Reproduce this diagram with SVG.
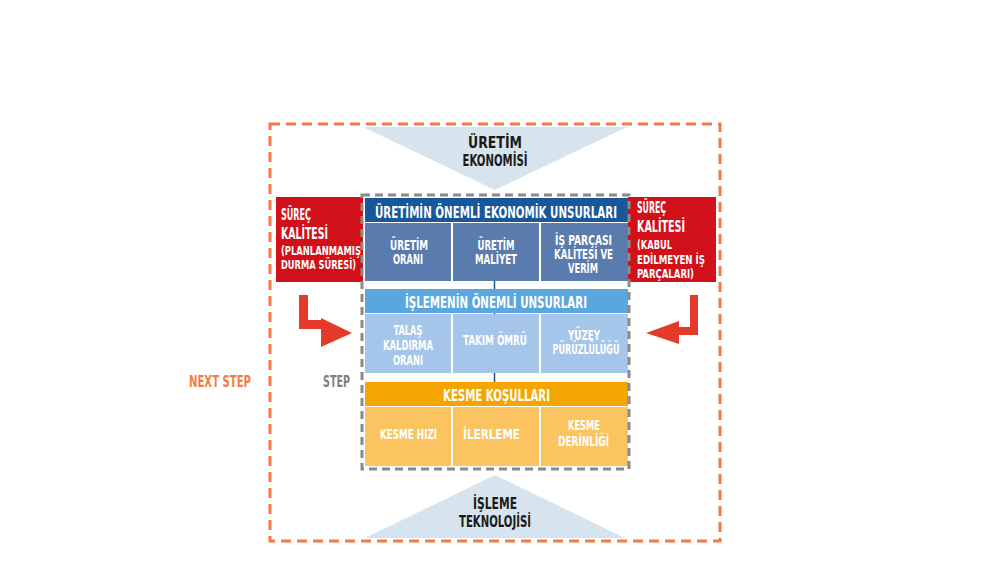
<svg xmlns="http://www.w3.org/2000/svg" width="1000" height="575" viewBox="0 0 1000 575">
<style>
text{font-family:"DejaVu Sans Condensed","DejaVu Sans",sans-serif;font-weight:bold;}
.w{fill:#ffffff;}
.c{text-anchor:middle;}
.k{fill:#1a1a1a;font-size:15.5px;}
.h{font-size:15px;}
.s{font-size:13.5px;}
.r1{font-size:15.5px;}
.r2{font-size:13px;}
.tri{fill:#d7e4ee;}
.red{fill:#d2101a;}
.arrow{fill:#e33a2a;}
.hd1{fill:#18589a;} .cl1{fill:#5a7bad;}
.hd2{fill:#5aa6de;} .cl2{fill:#a5c6ea;}
.hd3{fill:#f5a500;} .cl3{fill:#fbc460;}
</style>
<rect width="1000" height="575" fill="#ffffff"/>
<g id="outer-frame">
<rect x="270" y="124" width="450" height="417" fill="none" stroke="#f47b45" stroke-width="3" stroke-dasharray="10 6"/>
</g>
<g id="uretim-ekonomisi">
<polygon class="tri" points="363,127 627,127 495,190"/>
<text class="k c" x="495" y="148" textLength="54" lengthAdjust="spacingAndGlyphs">ÜRETİM</text>
<text class="k c" x="495" y="166" textLength="65" lengthAdjust="spacingAndGlyphs">EKONOMİSİ</text>
</g>
<g id="isleme-teknolojisi">
<polygon class="tri" points="495,475 365,538 625,538"/>
<text class="k c" x="495" y="509" textLength="44" lengthAdjust="spacingAndGlyphs">İŞLEME</text>
<text class="k c" x="495" y="527" textLength="72" lengthAdjust="spacingAndGlyphs">TEKNOLOJİSİ</text>
</g>
<g id="surec-kalitesi-left">
<rect class="red" x="276" y="197" width="87" height="85"/>
<text class="w r1" transform="translate(281,220) scale(0.62,1)" x="0" y="0" textLength="48.4" lengthAdjust="spacingAndGlyphs">SÜREÇ</text>
<text class="w r1" transform="translate(281,239) scale(0.7,1)" x="0" y="0" textLength="67.1" lengthAdjust="spacingAndGlyphs">KALİTESİ</text>
<text class="w r2" x="281" y="255" textLength="80" lengthAdjust="spacingAndGlyphs">(PLANLANMAMIŞ</text>
<text class="w r2" x="281" y="269" textLength="75" lengthAdjust="spacingAndGlyphs">DURMA SÜRESİ)</text>
</g>
<g id="surec-kalitesi-right">
<rect class="red" x="628" y="197" width="88" height="85"/>
<text class="w r1" transform="translate(637,213) scale(0.62,1)" x="0" y="0" textLength="46.8" lengthAdjust="spacingAndGlyphs">SÜREÇ</text>
<text class="w r1" transform="translate(637,232) scale(0.7,1)" x="0" y="0" textLength="68.6" lengthAdjust="spacingAndGlyphs">KALİTESİ</text>
<text class="w r2" x="637" y="249" textLength="35" lengthAdjust="spacingAndGlyphs">(KABUL</text>
<text class="w r2" x="637" y="264" textLength="68" lengthAdjust="spacingAndGlyphs">EDİLMEYEN İŞ</text>
<text class="w r2" x="637" y="278" textLength="57" lengthAdjust="spacingAndGlyphs">PARÇALARI)</text>
</g>
<g id="arrow-left">
<polygon class="arrow" points="299,295 308,295 308,320 321,320 321,318 352,333 321,347 321,329 299,329"/>
</g>
<g id="arrow-right">
<polygon class="arrow" points="698,295 690,295 690,327 679,327 679,321 646,333 679,344 679,335 698,335"/>
</g>
<g id="connectors">
<line x1="494.5" y1="280" x2="494.5" y2="384" stroke="#1a4f8a" stroke-width="1.5"/>
</g>
<g id="ekonomik-unsurlar">
<rect class="hd1" x="365" y="198" width="263" height="24"/>
<text class="w h c" transform="translate(496,218) scale(0.75,1)" x="0" y="0" textLength="322.7" lengthAdjust="spacingAndGlyphs">ÜRETİMİN ÖNEMLİ EKONOMİK UNSURLARI</text>
<rect class="cl1" x="365" y="223" width="86" height="58"/>
<rect class="cl1" x="453" y="223" width="86" height="58"/>
<rect class="cl1" x="541" y="223" width="87" height="58"/>
<text class="w s c" x="409" y="250" textLength="38" lengthAdjust="spacingAndGlyphs">ÜRETİM</text>
<text class="w s c" x="408" y="264" textLength="30" lengthAdjust="spacingAndGlyphs">ORANI</text>
<text class="w s c" x="496" y="250" textLength="37" lengthAdjust="spacingAndGlyphs">ÜRETİM</text>
<text class="w s c" x="496" y="264" textLength="42" lengthAdjust="spacingAndGlyphs">MALİYET</text>
<text class="w s c" x="583.5" y="245" textLength="57" lengthAdjust="spacingAndGlyphs">İŞ PARÇASI</text>
<text class="w s c" x="583.5" y="259" textLength="59" lengthAdjust="spacingAndGlyphs">KALİTESİ VE</text>
<text class="w s c" x="583" y="273" textLength="30" lengthAdjust="spacingAndGlyphs">VERİM</text>
</g>
<g id="isleme-unsurlar">
<rect class="hd2" x="365" y="289" width="263" height="24"/>
<text class="w h c" x="496" y="308" textLength="182" lengthAdjust="spacingAndGlyphs">İŞLEMENİN ÖNEMLİ UNSURLARI</text>
<rect class="cl2" x="365" y="314" width="86" height="59"/>
<rect class="cl2" x="453" y="314" width="86" height="59"/>
<rect class="cl2" x="541" y="314" width="87" height="59"/>
<text class="w s c" x="408" y="335" textLength="29" lengthAdjust="spacingAndGlyphs">TALAŞ</text>
<text class="w s c" x="408" y="350" textLength="50" lengthAdjust="spacingAndGlyphs">KALDIRMA</text>
<text class="w s c" x="408" y="365" textLength="30" lengthAdjust="spacingAndGlyphs">ORANI</text>
<text class="w s c" x="495" y="345" textLength="64" lengthAdjust="spacingAndGlyphs">TAKIM ÖMRÜ</text>
<text class="w s c" x="584" y="340" textLength="32" lengthAdjust="spacingAndGlyphs">YÜZEY</text>
<text class="w s c" x="586" y="354" textLength="67" lengthAdjust="spacingAndGlyphs">PÜRÜZLÜLÜĞÜ</text>
</g>
<g id="kesme-kosullari">
<rect class="hd3" x="365" y="382" width="263" height="24"/>
<text class="w h c" x="496.5" y="401" textLength="107" lengthAdjust="spacingAndGlyphs">KESME KOŞULLARI</text>
<rect class="cl3" x="365" y="407" width="86" height="59"/>
<rect class="cl3" x="453" y="407" width="86" height="59"/>
<rect class="cl3" x="541" y="407" width="87" height="59"/>
<text class="w s c" x="408.5" y="439" textLength="57" lengthAdjust="spacingAndGlyphs">KESME HIZI</text>
<text class="w s c" x="491.5" y="439" textLength="57" lengthAdjust="spacingAndGlyphs">İLERLEME</text>
<text class="w s c" x="584" y="430" textLength="32" lengthAdjust="spacingAndGlyphs">KESME</text>
<text class="w s c" x="583.5" y="446" textLength="51" lengthAdjust="spacingAndGlyphs">DERİNLİĞİ</text>
</g>
<g id="step-frame">
<rect x="362" y="195" width="267" height="274" fill="none" stroke="#8a8a8a" stroke-width="3" stroke-dasharray="8 5"/>
</g>
<g id="labels">
<text x="189" y="387" font-size="16" fill="#f47b45" textLength="62" lengthAdjust="spacingAndGlyphs">NEXT STEP</text>
<text x="323" y="387" font-size="16" fill="#808080" textLength="27" lengthAdjust="spacingAndGlyphs">STEP</text>
</g>
</svg>
